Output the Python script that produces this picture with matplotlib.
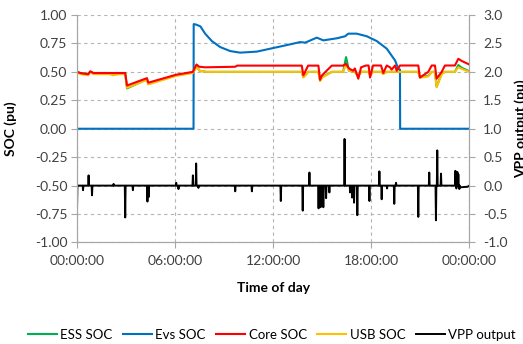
import numpy as np
import matplotlib.pyplot as plt

plt.rcParams['font.family'] = ['Lato', 'DejaVu Sans']
plt.rcParams['axes.unicode_minus'] = False

# Time of day in hours
soc_t = [0, 0.2, 0.5, 0.69, 0.81, 1.0, 2.0, 2.2, 2.6, 2.95, 3.06, 4.28, 4.36, 6.07,
         7.09, 7.31, 7.5, 7.9, 13.75, 13.85, 14.14, 14.77, 14.87, 15.0, 15.59,
         16.28, 16.46, 16.64, 17.0, 17.21, 17.38, 17.84, 17.93, 18.11, 18.6, 18.74,
         18.95, 19.76, 20.88, 20.98, 21.49, 21.7, 21.9, 22.0, 22.31, 22.51, 23.12,
         23.33, 23.55, 24.0]
usb_soc = [0.50, 0.48, 0.475, 0.47, 0.50, 0.48, 0.48, 0.47, 0.48, 0.48, 0.36, 0.43, 0.39, 0.465,
           0.49, 0.545, 0.51, 0.50, 0.50, 0.45, 0.50, 0.50, 0.42, 0.45, 0.50,
           0.50, 0.565, 0.51, 0.50, 0.46, 0.50, 0.50, 0.47, 0.50, 0.50, 0.48,
           0.50, 0.50, 0.50, 0.45, 0.46, 0.50, 0.50, 0.365, 0.48, 0.50, 0.50,
           0.54, 0.525, 0.50]
ess_soc = [0.50, 0.49, 0.485, 0.48, 0.50, 0.49, 0.49, 0.48, 0.49, 0.49, 0.355, 0.435, 0.395, 0.47,
           0.495, 0.55, 0.51, 0.50, 0.50, 0.455, 0.50, 0.50, 0.425, 0.455, 0.50,
           0.50, 0.63, 0.51, 0.50, 0.465, 0.50, 0.50, 0.475, 0.50, 0.50, 0.485,
           0.50, 0.50, 0.50, 0.455, 0.465, 0.50, 0.50, 0.37, 0.485, 0.50, 0.50,
           0.56, 0.535, 0.505]

core_t = [0, 0.2, 0.39, 0.69, 0.81, 1.0, 2.85, 2.95, 3.06, 4.28, 4.36, 6.07, 7.09, 7.31,
          7.48, 7.84, 9.68, 9.8, 13.75, 13.85, 14.14, 14.77, 14.87, 14.99, 15.59,
          16.28, 16.46, 16.64, 16.89, 17.0, 17.21, 17.38, 17.68, 17.84, 17.93, 18.11,
          18.6, 18.74, 18.95, 19.15, 19.25, 19.46, 19.56, 19.76, 20.88, 20.98, 21.49,
          21.7, 21.9, 22.0, 22.31, 22.51, 23.12, 23.33, 23.55, 24.0]
core_soc = [0.50, 0.49, 0.485, 0.48, 0.505, 0.49, 0.49, 0.49, 0.38, 0.445, 0.405, 0.475, 0.50, 0.565,
            0.545, 0.54, 0.545, 0.555, 0.555, 0.47, 0.555, 0.555, 0.43, 0.47, 0.555,
            0.555, 0.57, 0.53, 0.51, 0.53, 0.44, 0.54, 0.556, 0.556, 0.45, 0.556,
            0.556, 0.49, 0.556, 0.54, 0.52, 0.556, 0.51, 0.556, 0.556, 0.45, 0.50,
            0.556, 0.556, 0.44, 0.50, 0.556, 0.556, 0.615, 0.595, 0.565]

evs_t = [0, 7.13, 7.14, 7.3, 7.55, 7.84, 8.25, 8.76, 9.37, 9.98, 11.0, 12.02, 13.04,
         13.65, 13.96, 14.67, 15.07, 15.89, 16.4, 16.6, 17.11, 17.73, 18.34, 18.95,
         19.46, 19.66, 19.76, 19.77, 24]
evs_soc = [0, 0, 0.92, 0.915, 0.90, 0.836, 0.771, 0.718, 0.683, 0.669, 0.678, 0.71, 0.742,
           0.762, 0.757, 0.801, 0.777, 0.795, 0.813, 0.836, 0.836, 0.813, 0.771, 0.704,
           0.60, 0.527, 0.52, 0, 0]

# VPP output spikes (hour, pu) on the secondary axis
vpp_spike_t = [0.0, 0.37, 0.71, 0.92, 2.24, 2.95, 3.42, 4.31, 4.39, 6.07, 6.21, 7.09, 7.29,
               7.43, 9.68, 10.7, 12.47, 13.81, 14.22, 14.78, 14.9, 15.07, 15.24, 15.44,
               16.37, 16.71, 16.83, 16.95, 17.15, 17.89, 18.5, 18.64, 18.97, 19.41, 19.52,
               20.88, 21.55, 21.96, 22.04, 22.27, 23.15, 23.21, 23.27, 23.33, 23.39]
vpp_spike_v = [-0.45, -0.08, 0.18, -0.17, 0.03, -0.56, -0.08, -0.28, -0.2, 0.05, -0.06, 0.18, 0.39,
               -0.04, -0.1, -0.1, -0.27, -0.44, 0.23, -0.40, -0.38, -0.38, -0.22, -0.12,
               0.82, -0.12, -0.21, -0.3, -0.52, -0.27, 0.25, -0.24, -0.05, -0.32, 0.05,
               -0.55, 0.23, -0.61, 0.62, 0.21, 0.26, -0.05, 0.24, 0.2, -0.06]

# build the VPP trace: flat at zero with a narrow spike at every event
vpp_t, vpp_v = [], []
for t, v in zip(vpp_spike_t, vpp_spike_v):
    vpp_t += [t - 0.025, t, t + 0.025]
    vpp_v += [0, v, 0]
vpp_t += [23.42, 23.9, 24.0]
vpp_v += [-0.03, -0.02, 0]

fig = plt.figure(figsize=(5.23, 3.44), dpi=100)
ax = fig.add_axes([0.1472, 0.2951, 0.7501, 0.6613])
ax2 = ax.twinx()

l1, = ax.plot(soc_t, ess_soc, color='#00B050', lw=1.5, label='ESS SOC')
l2, = ax.plot(evs_t, evs_soc, color='#0070C0', lw=1.5, label='Evs SOC')
l4, = ax.plot(soc_t, usb_soc, color='#FFC000', lw=1.5, label='USB SOC')
l3, = ax.plot(core_t, core_soc, color='#FF0000', lw=1.5, label='Core SOC')
l5, = ax2.plot(vpp_t, vpp_v, color='black', lw=1.4, label='VPP output')

ax.set_xlim(0, 24)
ax.set_ylim(-1, 1)
ax2.set_ylim(-1, 3)

ax.set_xticks([0, 6, 12, 18, 24])
ax.set_xticklabels(['00:00:00', '06:00:00', '12:00:00', '18:00:00', '00:00:00'])
ax.set_yticks(np.arange(-1, 1.01, 0.25))
ax.set_yticklabels([f'{v:.2f}' for v in np.arange(-1, 1.01, 0.25)])
ax2.set_yticks(np.arange(-1, 3.01, 0.5))
ax2.set_yticklabels([f'{v:.1f}' for v in np.arange(-1, 3.01, 0.5)])

ax.grid(True, color='#b4b4b4', linestyle=(0, (3, 3)), lw=0.8)
ax.set_axisbelow(True)

for a in (ax, ax2):
    for s in a.spines.values():
        s.set_color('#a6a6a6')
    a.spines['top'].set_visible(False)
    a.tick_params(colors='#a6a6a6', labelcolor='#404040', labelsize=10, length=4, width=0.8)

ax.tick_params(axis='y', pad=3)
ax.tick_params(axis='x', pad=5)
ax2.tick_params(axis='y', pad=6)

ax.set_xlabel('Time of day', fontsize=10, fontweight='bold')
ax.xaxis.set_label_coords(0.5, -0.175)
ax.set_ylabel('SOC (pu)', fontsize=10, fontweight='bold')
ax.yaxis.set_label_coords(-0.153, 0.5)
ax2.set_ylabel('VPP output (pu)', fontsize=10, fontweight='bold', rotation=90, va='center')
ax2.yaxis.set_label_coords(1.13, 0.5)

fig.legend(handles=[l1, l2, l3, l4, l5], loc='center', bbox_to_anchor=(0.52, 0.026),
           ncol=5, frameon=False, fontsize=9.5, handlelength=2.2, handletextpad=0.25,
           columnspacing=0.8)

fig.savefig('out.png', dpi=100)
